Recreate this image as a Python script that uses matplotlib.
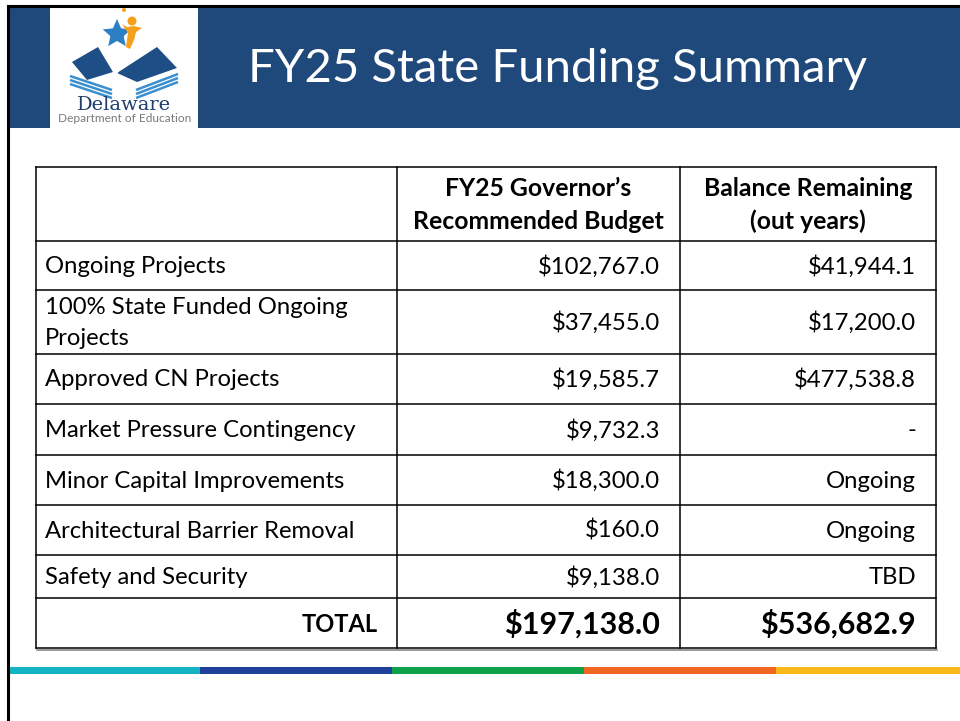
import numpy as np
import matplotlib.pyplot as plt
from matplotlib.patches import Rectangle, Polygon, Circle

# Datos de la tabla
row_labels = ["Ongoing Projects", "100% State Funded Ongoing\nProjects", "Approved CN Projects",
              "Market Pressure Contingency", "Minor Capital Improvements",
              "Architectural Barrier Removal", "Safety and Security"]
budget = ["$102,767.0", "$37,455.0", "$19,585.7", "$9,732.3", "$18,300.0", "$160.0", "$9,138.0"]
balance = ["$41,944.1", "$17,200.0", "$477,538.8", "-", "Ongoing", "Ongoing", "TBD"]
col_headers = ["FY25 Governor\u2019s\nRecommended Budget", "Balance Remaining\n(out years)"]
total_label = "TOTAL"
total_budget = "$197,138.0"
total_balance = "$536,682.9"
title = "FY25 State Funding Summary"
stripe_colors = ["#14b3c3", "#1f3f99", "#0ca04b", "#f26724", "#fbb819"]

FONT = "Lato"
navy = "#1f497b"

fig = plt.figure(figsize=(9.6, 7.21), dpi=100)
ax = fig.add_axes([0, 0, 1, 1])
ax.set_xlim(0, 960)
ax.set_ylim(721, 0)
ax.axis("off")

# marco de la diapositiva
ax.plot([8, 8], [721, 6], color="black", lw=2.2)
ax.plot([8, 960], [6, 6], color="black", lw=2.2)

# banda de titulo
ax.add_patch(Rectangle((9, 7), 951, 121, color=navy, lw=0))
ax.add_patch(Rectangle((50, 7), 148, 121, color="white", lw=0))
ax.text(558, 69, title, color="white", fontsize=34, family=FONT, ha="center", va="center")

# logo (aproximado)
for k in range(3):
    ax.plot([70, 112], [76 + 4 * k, 90 + 4 * k], color="#3a8fd0", lw=1.8, solid_capstyle="butt")
    ax.plot([136, 178], [90 + 4 * k, 74 + 4 * k], color="#3a8fd0", lw=1.8, solid_capstyle="butt")
ax.add_patch(Polygon([(72, 62), (98, 47), (113, 72), (87, 80)], color="#1d4f86", lw=0))
ax.add_patch(Polygon([(117, 73), (157, 47), (177, 68), (137, 82)], color="#1d4f86", lw=0))
ax.plot([108, 116, 112, 122, 126], [58, 72, 82, 90, 100], color="white", lw=3)
ang = np.linspace(np.pi / 2, np.pi / 2 + 4 * np.pi, 11)[:10]
rad = np.where(np.arange(10) % 2 == 0, 15, 6)
ax.add_patch(Polygon(np.c_[117 + rad * np.cos(ang), 34 - rad * np.sin(ang)], color="#2b7fc2", lw=0))
ax.add_patch(Circle((132, 21), 4.5, color="#f5a01a", lw=0))
ax.add_patch(Polygon([(122, 24), (127, 27), (134, 26), (142, 28), (136, 32), (134, 40),
                      (130, 49), (126, 47), (128, 33)], color="#f5a01a", lw=0))
ax.add_patch(Circle((124, 10), 2, color="#f5a01a", lw=0))
ax.text(124, 105, "Delaware", color="#1e3f6e", fontsize=14, family="DejaVu Serif",
        ha="center", va="center")
ax.text(125, 119, "Department of Education", color="#7a7a7a", fontsize=8.6, family=FONT,
        ha="center", va="center")

# tabla
col_edges = [36, 397, 680, 936]
row_edges = [167, 241, 290, 354, 404, 455, 505, 555, 598, 648]
for y in row_edges:
    ax.plot([col_edges[0], col_edges[-1]], [y, y], color="black", lw=1.1)
for x in col_edges:
    ax.plot([x, x], [row_edges[0], row_edges[-1]], color="black", lw=1.1)
ax.plot([37, 937], [650, 650], color="#888888", lw=1.2)

fs = 17.2
for j, h in enumerate(col_headers):
    xc = (col_edges[j + 1] + col_edges[j + 2]) / 2
    ax.text(xc, (row_edges[0] + row_edges[1]) / 2 + 1, h, fontsize=17.8, family=FONT,
            weight="bold", ha="center", va="center", linespacing=1.5)

for i, lab in enumerate(row_labels):
    yc = (row_edges[i + 1] + row_edges[i + 2]) / 2 + 1
    ax.text(45, yc, lab, fontsize=fs, family=FONT, ha="left", va="center", linespacing=1.55)
    ax.text(col_edges[2] - 20, yc, budget[i], fontsize=fs, family=FONT, ha="right", va="center")
    ax.text(col_edges[3] - 20, yc, balance[i], fontsize=fs, family=FONT, ha="right", va="center")

yt = (row_edges[-2] + row_edges[-1]) / 2 + 1
ax.text(col_edges[1] - 19, yt, total_label, fontsize=17, family=FONT, weight="bold",
        ha="right", va="center")
ax.text(col_edges[2] - 20, yt, total_budget, fontsize=22, family=FONT, weight="bold",
        ha="right", va="center")
ax.text(col_edges[3] - 20, yt, total_balance, fontsize=22, family=FONT, weight="bold",
        ha="right", va="center")

# franja de colores
xs = np.linspace(8, 968, len(stripe_colors) + 1)
for k, c in enumerate(stripe_colors):
    ax.add_patch(Rectangle((xs[k], 667), xs[k + 1] - xs[k], 7, color=c, lw=0))

fig.savefig("out.png", dpi=100)
